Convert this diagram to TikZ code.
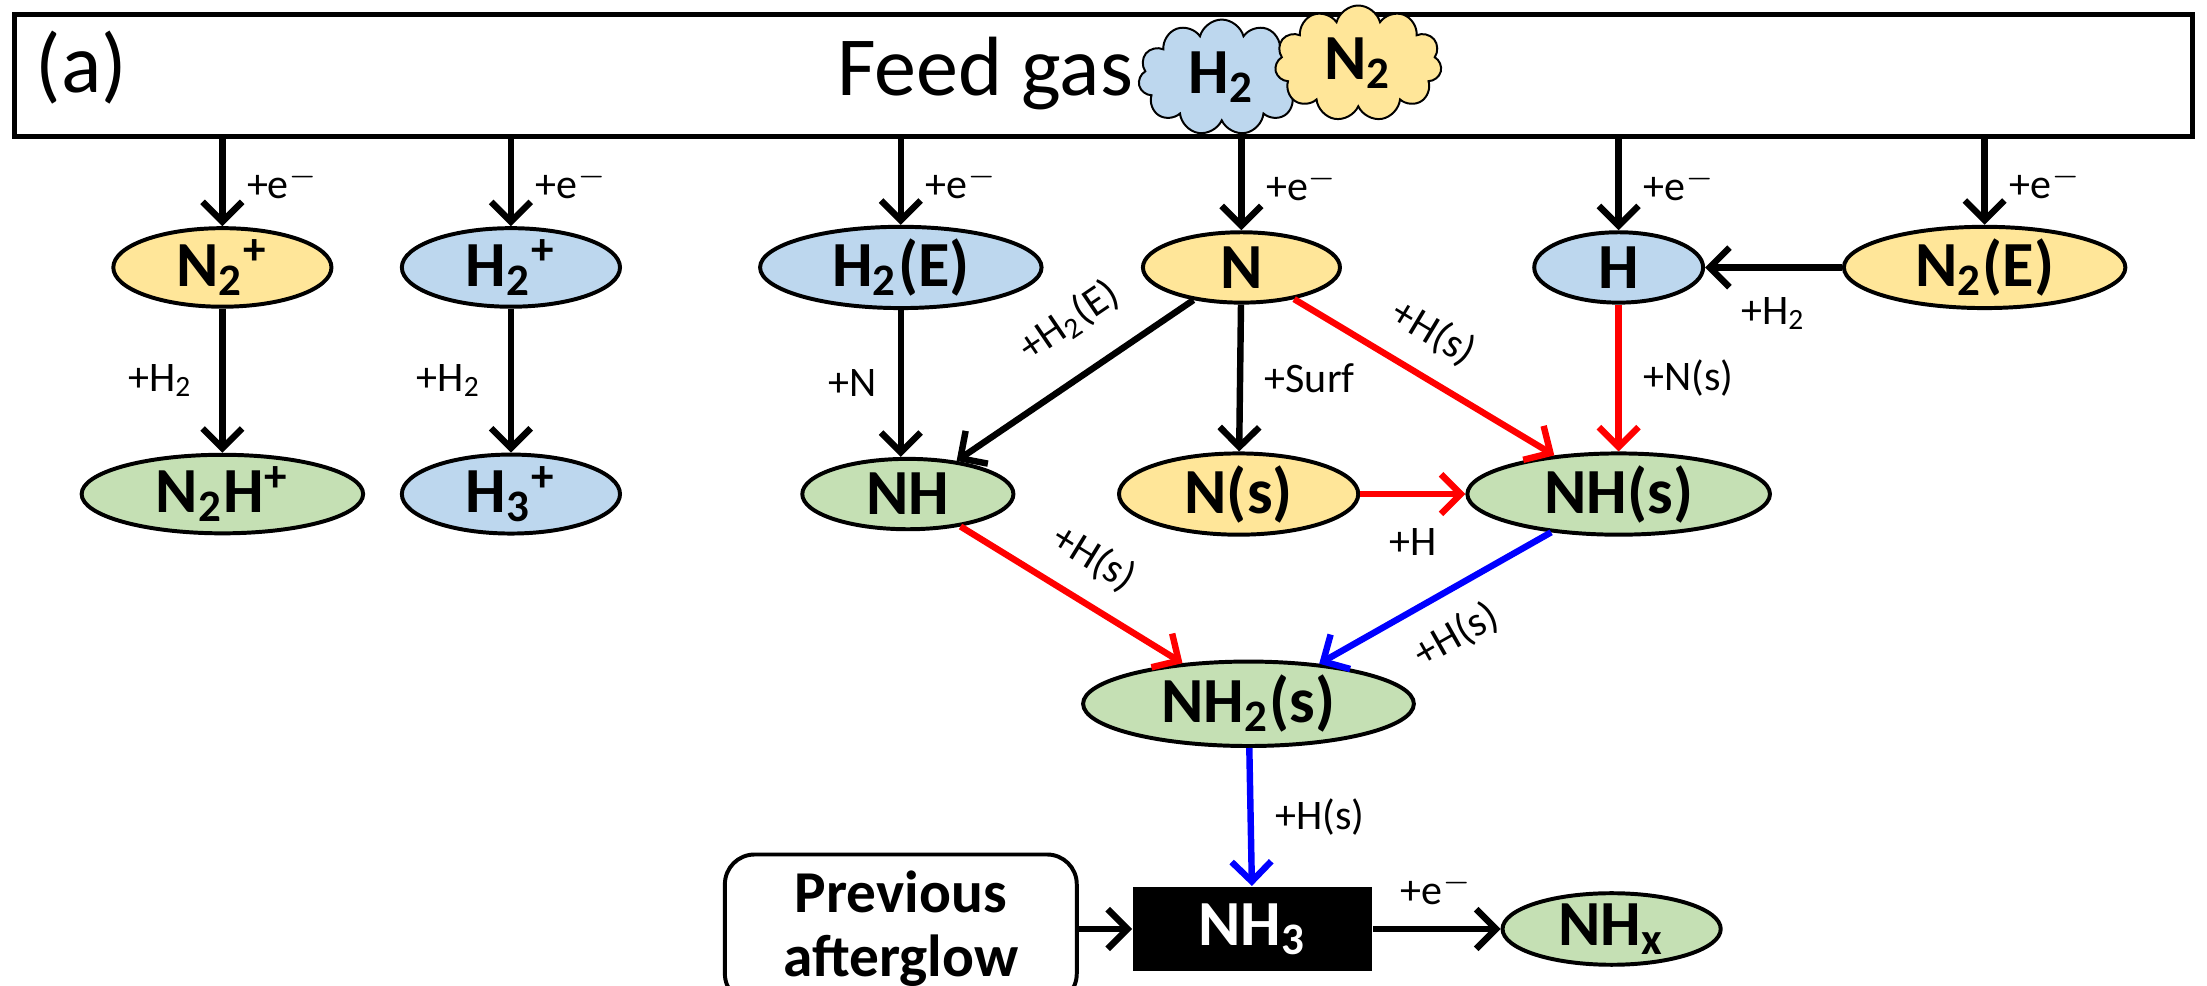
\documentclass[tikz,border=0pt]{standalone}
\usepackage{fontspec}
\setmainfont{Carlito}
\usetikzlibrary{shapes, shapes.symbols, arrows.meta, positioning}
\definecolor{nyellow}{RGB}{255,230,153}
\definecolor{hblue}{RGB}{189,215,238}
\definecolor{pgreen}{RGB}{197,224,180}
\tikzstyle{species}=[draw,ellipse,line width=0.8pt,inner sep=0pt,minimum height=0.5cm,font=\fontsize{13}{13}\selectfont\bfseries]
\tikzstyle{react}=[line width=1.3pt,-{Straight Barb[length=4pt,width=8pt]}]
\tikzstyle{lab}=[font=\fontsize{8.5}{9}\selectfont]
\tikzstyle{surf}=[red]
\tikzstyle{hyd}=[blue]

\begin{document}
\begin{tikzpicture}
    \useasboundingbox (0,0) rectangle (15.68,7.0);
    % feed gas box
    \node (feed)[draw,line width=1pt,minimum width=15.48cm,minimum height=0.87cm,inner sep=0pt] at (7.84,6.465) {};
    \node[font=\fontsize{17}{17}\selectfont] at (0.58,6.52) {(a)};
    \node[font=\fontsize{17}{17}\selectfont] at (7.0,6.48) {Feed gas};
    \node[draw,cloud,cloud puffs=11,aspect=1.8,fill=hblue,inner sep=1pt,font=\fontsize{13}{13}\selectfont\bfseries] (cH) at (8.68,6.45) {H\textsubscript{2}};
    \node[draw,cloud,cloud puffs=11,aspect=1.8,fill=nyellow,inner sep=1pt,font=\fontsize{13}{13}\selectfont\bfseries] (cN) at (9.65,6.55) {N\textsubscript{2}};

    % first row
    \node (n2p)[species,fill=nyellow,minimum width=1.55cm] at (1.58,5.10) {N\textsubscript{2}\textsuperscript{+}};
    \node (h2p)[species,fill=hblue,minimum width=1.55cm] at (3.63,5.10) {H\textsubscript{2}\textsuperscript{+}};
    \node (h2e)[species,fill=hblue,minimum width=2.0cm] at (6.40,5.10) {H\textsubscript{2}(E)};
    \node (n)[species,fill=nyellow,minimum width=1.4cm] at (8.82,5.10) {N};
    \node (h)[species,fill=hblue,minimum width=1.2cm] at (11.50,5.10) {H};
    \node (n2e)[species,fill=nyellow,minimum width=2.0cm] at (14.10,5.10) {N\textsubscript{2}(E)};

    % second row
    \node (n2hp)[species,fill=pgreen,minimum width=2.0cm] at (1.58,3.49) {N\textsubscript{2}H\textsuperscript{+}};
    \node (h3p)[species,fill=hblue,minimum width=1.55cm] at (3.63,3.49) {H\textsubscript{3}\textsuperscript{+}};
    \node (nh)[species,fill=pgreen,minimum width=1.5cm] at (6.45,3.49) {NH};
    \node (ns)[species,fill=nyellow,minimum width=1.7cm] at (8.80,3.49) {N(s)};
    \node (nhs)[species,fill=pgreen,minimum width=2.15cm] at (11.50,3.49) {NH(s)};

    \node (nh2s)[species,fill=pgreen,minimum width=2.35cm,minimum height=0.6cm] at (8.87,2.00) {NH\textsubscript{2}(s)};

    % bottom row
    \node (nh3)[fill=black,text=white,minimum width=1.7cm,minimum height=0.55cm,font=\fontsize{13}{13}\selectfont\bfseries] at (8.90,0.40) {NH\textsubscript{3}};
    \node (prev)[draw,rounded corners=6pt,line width=0.8pt,minimum width=2.5cm,minimum height=0.8cm,align=center,font=\fontsize{12}{13}\selectfont\bfseries] at (6.40,0.40) {Previous\\afterglow};
    \node (nhx)[species,fill=pgreen,minimum width=1.55cm] at (11.45,0.40) {NH\textsubscript{x}};

    % electron impact from feed gas
    \foreach \s in {n2p,h2p,h2e,n,h,n2e}
        \draw[react] (feed.south -| \s) -- (\s) node[lab,midway,right=1pt] {+e$^-$};

    \draw[react] (n2p) -- (n2hp) node[lab,midway,left=2pt] {+H\textsubscript{2}};
    \draw[react] (h2p) -- (h3p) node[lab,midway,left=2pt] {+H\textsubscript{2}};
    \draw[react] (h2e) -- (h2e |- nh.north) node[lab,midway,left=1pt] {+N};
    \draw[react] (n) -- (nh) node[lab,pos=0.4,above=3pt,sloped] {+H\textsubscript{2}(E)};
    \draw[react] (n) -- (ns) node[lab,midway,right=1pt] {+Surf};
    \draw[react] (n2e) -- (h) node[lab,midway,below=2pt] {+H\textsubscript{2}};
    \draw[react,surf] (n) -- (nhs) node[lab,pos=0.45,above=1pt,sloped,text=black] {+H(s)};
    \draw[react,surf] (h) -- (nhs) node[lab,midway,right=1pt,text=black] {+N(s)};
    \draw[react,surf] (ns) -- (nhs) node[lab,midway,below=3pt,text=black] {+H};
    \draw[react,surf] (nh) -- (nh2s) node[lab,midway,above=1pt,sloped,text=black] {+H(s)};
    \draw[react,hyd] (nhs) -- (nh2s) node[lab,midway,below=1pt,sloped,text=black] {+H(s)};
    \draw[react,hyd] (nh2s) -- (nh3) node[lab,midway,right=1pt,text=black] {+H(s)};
    \draw[react] (prev) -- (nh3);
    \draw[react] (nh3) -- (nhx) node[lab,midway,above=1pt] {+e$^-$};
\end{tikzpicture}
\end{document}
